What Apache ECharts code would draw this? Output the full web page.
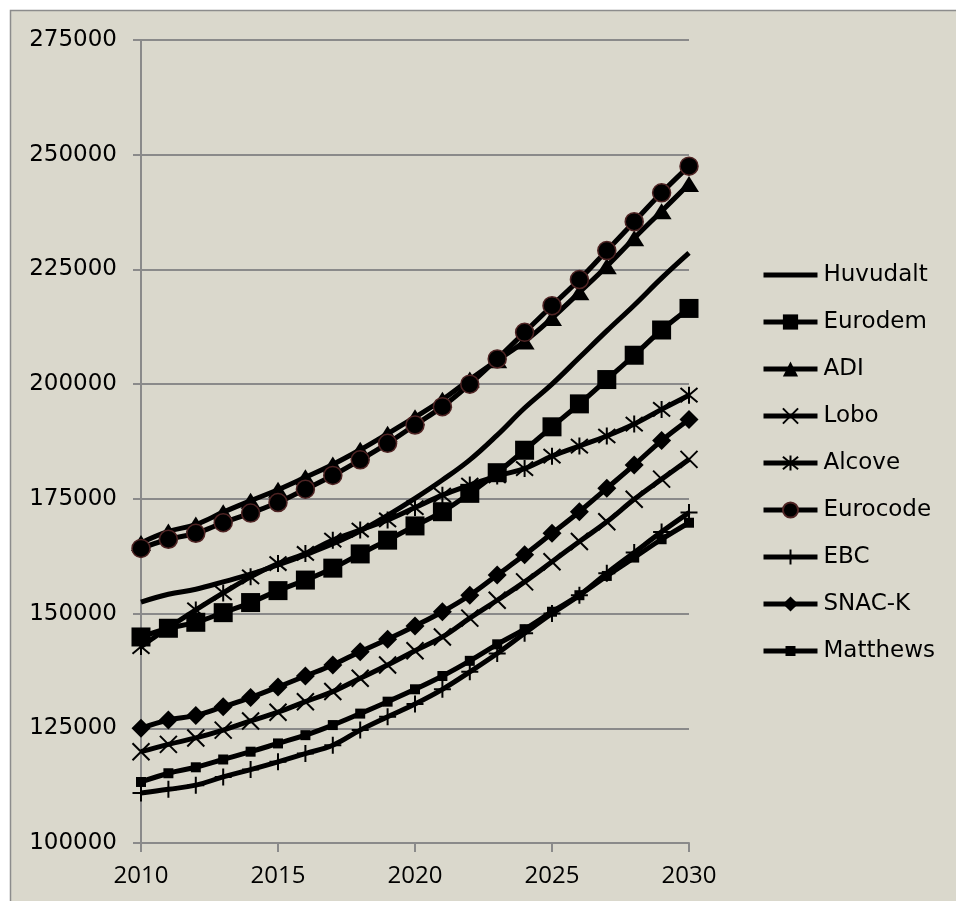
<!DOCTYPE html>
<html>
<head>
<meta charset="utf-8">
<style>
  html, body { margin: 0; padding: 0; background: #ffffff; }
  #chart { width: 956px; height: 901px; }
</style>
<script src="https://cdn.jsdelivr.net/npm/echarts@6/dist/echarts.min.js"></script>
</head>
<body>
<div id="chart"></div>
<script>
// Projected totals per scenario, 2010–2030
const years = [2010, 2011, 2012, 2013, 2014, 2015, 2016, 2017, 2018, 2019, 2020,
               2021, 2022, 2023, 2024, 2025, 2026, 2027, 2028, 2029, 2030];

const huvudalt = [152500, 154200, 155300, 156900, 158600, 160600, 162800, 165200, 168000, 171400, 175100,
                  179100, 183500, 188900, 194800, 200000, 205800, 211600, 217200, 223100, 228600];
const eurodem  = [144900, 146800, 148100, 150200, 152400, 155000, 157300, 159900, 163000, 166000, 169100,
                  172200, 176200, 180700, 185600, 190700, 195700, 201000, 206300, 211800, 216500];
const adi      = [165400, 167900, 169400, 172100, 174600, 177000, 179700, 182500, 185700, 189200, 192800,
                  196600, 201000, 205200, 209300, 214400, 220000, 225700, 231800, 237700, 243600];
const lobo     = [119900, 121500, 122900, 124600, 126600, 128500, 130800, 133000, 135900, 138800, 141900,
                  144900, 149000, 152900, 156900, 161300, 165700, 170000, 174900, 179300, 183600];
const alcove   = [142800, 146900, 150800, 154500, 158000, 160900, 163100, 166000, 168200, 170400, 173100,
                  175800, 178000, 180000, 181600, 184300, 186500, 188700, 191300, 194500, 197600];
const eurocode = [164200, 166200, 167500, 169800, 171900, 174200, 177100, 180100, 183500, 187100, 191100,
                  195100, 200000, 205500, 211300, 217100, 222800, 229100, 235400, 241700, 247500];
const ebc      = [110900, 111700, 112600, 114400, 116000, 117700, 119500, 121300, 124600, 127500, 130300,
                  133500, 137300, 141300, 145700, 150000, 154000, 158800, 163300, 167800, 172000];
const snack    = [125000, 126800, 127800, 129700, 131700, 134000, 136400, 138800, 141700, 144400, 147300,
                  150400, 154000, 158400, 162800, 167500, 172200, 177300, 182400, 187700, 192300];
const matthews = [113300, 115200, 116500, 118200, 119900, 121700, 123500, 125700, 128200, 130800, 133500,
                  136400, 139700, 143300, 146600, 150400, 154000, 158200, 162200, 166200, 169800];

const yTicks = { min: 100000, max: 275000, step: 25000 };
const xTicks = { min: 2010, max: 2030, step: 5 };

// stroked marker shapes
const X_PATH = 'path://M0,0 L10,10 M10,0 L0,10';
const STAR_PATH = 'path://M0,0 L10,10 M10,0 L0,10 M5,-1 L5,11';
const PLUS_PATH = 'path://M0,5 L10,5 M5,0 L5,10';

// legend keys drawn as a single shape (line only / line with a small square)
const LINE_ICON = 'path://M0,7 L54,7 L54,12 L0,12 Z M0,0 L0.01,0 M0,19 L0.01,19';
const SMALL_SQUARE_ICON = 'path://M0,7 L54,7 L54,12 L0,12 Z M22,4.5 L32,4.5 L32,14.5 L22,14.5 Z M0,0 L0.01,0 M0,19 L0.01,19';

const INK = '#000000';
const LINE_W = 5;

function pairs(vals) {
  return years.map((y, i) => [y, vals[i]]);
}

function makeSeries(name, vals, marker) {
  const s = {
    name: name,
    type: 'line',
    smooth: 0.4,
    data: pairs(vals),
    lineStyle: { color: INK, width: LINE_W },
    itemStyle: { color: INK },
    symbol: 'none',
    showSymbol: true,
    emphasis: { disabled: true }
  };
  Object.assign(s, marker);
  return s;
}

const series = [
  makeSeries('Huvudalt', huvudalt, { symbol: 'none' }),
  makeSeries('Eurodem', eurodem, { symbol: 'rect', symbolSize: 19 }),
  makeSeries('ADI', adi, { symbol: 'triangle', symbolSize: [20, 16] }),
  makeSeries('Lobo', lobo, { symbol: X_PATH, symbolSize: 17,
    itemStyle: { color: INK, borderColor: INK, borderWidth: 2 } }),
  makeSeries('Alcove', alcove, { symbol: STAR_PATH, symbolSize: 17,
    itemStyle: { color: INK, borderColor: INK, borderWidth: 2 } }),
  makeSeries('Eurocode', eurocode, { symbol: 'circle', symbolSize: 18,
    itemStyle: { color: INK, borderColor: '#4f2424', borderWidth: 1.5 } }),
  makeSeries('EBC', ebc, { symbol: PLUS_PATH, symbolSize: 17,
    itemStyle: { color: INK, borderColor: INK, borderWidth: 2 } }),
  makeSeries('SNAC-K', snack, { symbol: 'diamond', symbolSize: 19 }),
  makeSeries('Matthews', matthews, { symbol: 'rect', symbolSize: 10 })
];

const legendIcons = { 'Huvudalt': LINE_ICON, 'Matthews': SMALL_SQUARE_ICON };

const chart = echarts.init(document.getElementById('chart'), null, { renderer: 'canvas' });

const AXIS_GREY = '#8a8a8a';

chart.setOption({
  animation: false,
  backgroundColor: '#ffffff',
  graphic: [{
    type: 'rect',
    z: -10,
    shape: { x: 10.5, y: 10.5, width: 960, height: 910 },
    style: { fill: '#dad8cc', stroke: '#8c8c8c', lineWidth: 1.5 }
  }],
  grid: { left: 141, top: 40, right: 267, bottom: 58, containLabel: false },
  xAxis: {
    type: 'value',
    min: xTicks.min,
    max: xTicks.max,
    interval: xTicks.step,
    axisLine: { show: true, lineStyle: { color: AXIS_GREY, width: 2 } },
    axisTick: { show: true, length: 9, lineStyle: { color: AXIS_GREY, width: 2 } },
    splitLine: { show: false },
    axisLabel: {
      margin: 21,
      color: '#000',
      fontFamily: 'Open Sans',
      fontSize: 24,
      formatter: v => String(v)
    }
  },
  yAxis: {
    type: 'value',
    min: yTicks.min,
    max: yTicks.max,
    interval: yTicks.step,
    axisLine: { show: true, lineStyle: { color: AXIS_GREY, width: 2 } },
    axisTick: { show: true, length: 8, lineStyle: { color: AXIS_GREY, width: 2 } },
    splitLine: { show: true, lineStyle: { color: AXIS_GREY, width: 2 } },
    axisLabel: {
      margin: 24,
      color: '#000',
      fontFamily: 'DejaVu Sans',
      fontSize: 23,
      formatter: v => String(v)
    }
  },
  legend: {
    orient: 'vertical',
    left: 756,
    top: 258,
    itemWidth: 54,
    itemHeight: 19,
    itemGap: 23,
    lineStyle: { width: 5 },
    textStyle: {
      color: '#000',
      fontFamily: 'DejaVu Sans',
      fontSize: 23,
      lineHeight: 24,
      padding: [0, 0, 0, 1]
    },
    data: series.map(s => legendIcons[s.name]
      ? { name: s.name, icon: legendIcons[s.name] }
      : s.name)
  },
  series: series
});
</script>
</body>
</html>
